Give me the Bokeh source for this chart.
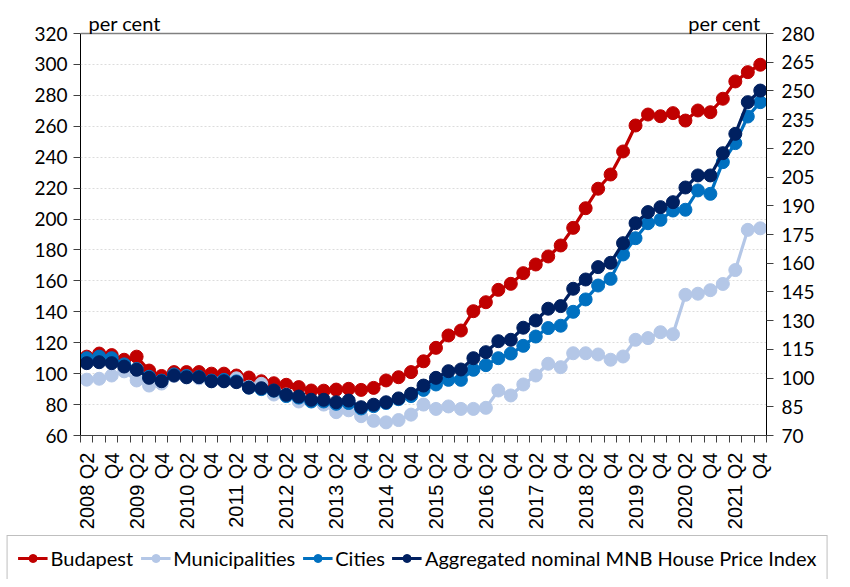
import math
from bokeh.plotting import figure
from bokeh.models import Range1d, LinearAxis, FixedTicker, Legend, LegendItem, Label, Span
from bokeh.embed import file_html
from bokeh.resources import INLINE

# ---- data -------------------------------------------------------------
years = [str(y) for y in range(2008, 2022)]
quarters = ["2008 Q2", "2008 Q3", "2008 Q4"] + [f"{y} Q{q}" for y in years[1:] for q in (1, 2, 3, 4)]

tick_labels = ["2008 Q2", "Q4", "2009 Q2", "Q4", "2010 Q2", "Q4", "2011 Q2", "Q4",
               "2012 Q2", "Q4", "2013 Q2", "Q4", "2014 Q2", "Q4", "2015 Q2", "Q4",
               "2016 Q2", "Q4", "2017 Q2", "Q4", "2018 Q2", "Q4", "2019 Q2", "Q4",
               "2020 Q2", "Q4", "2021 Q2", "Q4"]

budapest = [111, 113, 112, 109, 111, 102, 98.5, 101, 101, 101,
            100, 100, 98.8, 97.5, 95.1, 93.8, 92.8, 91.3, 89.1, 89,
            89.7, 90.2, 89.5, 90.8, 95.6, 97.7, 101, 108, 116.7, 124.7,
            127.9, 140.4, 146.2, 154.2, 158.1, 165, 170.6, 175.8, 182.9, 194.3,
            207, 219.6, 228.8, 243.7, 260.5, 267.6, 266.5, 268.5, 263.7, 270.2,
            269.1, 277.8, 289, 295, 299.8]

municipalities = [96.1, 96.7, 98.8, 101.5, 95.6, 92.3, 93.6, 98.5, 97.5, 97,
                  95, 95, 97, 91.5, 93.4, 86.5, 86.5, 82, 82.5, 80,
                  75.1, 76.3, 72.5, 69.5, 68.5, 70, 73.5, 80, 77.2, 78.8,
                  77.2, 77.2, 77.9, 89.1, 85.9, 93, 98.8, 106.4, 104.2, 113.2,
                  113.2, 112.4, 109, 111.1, 121.9, 123, 126.8, 125.5, 151, 151.7,
                  154, 158, 167, 193, 194]

cities = [110, 111, 110, 106, 103, 98, 95.5, 99.5, 98.5, 98,
          95.5, 96, 95, 91, 90, 89, 85.5, 84.5, 82, 82,
          80.5, 81, 77.5, 79, 81, 83.5, 85.5, 89.5, 93, 96,
          96, 102.5, 105.5, 110, 113, 118, 124, 129.5, 131, 140,
          148, 157, 161.3, 177.1, 187.6, 197.3, 199.5, 205.5, 206, 218.5,
          216.3, 236.8, 249.1, 266.3, 275.6]

aggregated = [106.8, 107.4, 106.8, 104.6, 102.5, 97.3, 95.1, 98.8, 97.7, 97.7,
              95.1, 95.1, 94.5, 91, 90.6, 89.1, 86.3, 85.2, 83.1, 83.1,
              81.5, 82.6, 78.3, 79.9, 81.5, 84, 87, 92.3, 97.3, 101.6,
              102.7, 110, 113.9, 121, 121.9, 129.7, 134.4, 142, 143.7, 154.9,
              160.9, 168.9, 171.7, 184.4, 197.3, 204.5, 207.7, 210.9, 220.4, 228.2,
              228.2, 242.6, 255.1, 275.6, 283.1]

series_names = ["Budapest", "Municipalities", "Cities", "Aggregated nominal MNB House Price Index"]
series_colors = ["#C00000", "#B4C7E7", "#0070C0", "#002060"]
series_values = [budapest, municipalities, cities, aggregated]

left_ticks = [60, 80, 100, 120, 140, 160, 180, 200, 220, 240, 260, 280, 300, 320]
right_ticks = [70, 85, 100, 115, 130, 145, 160, 175, 190, 205, 220, 235, 250, 265, 280]

# ---- main figure ------------------------------------------------------
n = len(quarters)
xs = list(range(n))

PLOT_H = 402          # height of the 60..320 area in px
HEAD = 25             # room above the top line for "per cent"
l_lo, l_hi = left_ticks[0], left_ticks[-1]
r_lo, r_hi = right_ticks[0], right_ticks[-1]
l_top = l_hi + HEAD * (l_hi - l_lo) / PLOT_H
r_top = r_hi + HEAD * (r_hi - r_lo) / PLOT_H

p = figure(width=834, height=532, output_backend="svg", toolbar_location=None,
           x_range=Range1d(-0.5, n - 0.5), y_range=Range1d(l_lo, l_top),
           min_border_left=80, min_border_right=68, min_border_top=8, min_border_bottom=97)
p.background_fill_color = "white"
p.border_fill_color = "white"
p.outline_line_color = None

# y grid
p.xgrid.visible = False
p.ygrid.ticker = FixedTicker(ticks=left_ticks[1:-1])
p.ygrid.grid_line_color = "#dcdcdc"
p.ygrid.grid_line_dash = "2 2"
p.ygrid.grid_line_width = 1
p.add_layout(Span(location=l_hi, dimension="width", line_color="#808080", line_width=1.3))

# left axis
ya = p.yaxis[0]
ya.ticker = FixedTicker(ticks=left_ticks)
ya.bounds = (l_lo, l_hi)
ya.major_tick_out = 7
ya.major_tick_in = 0
ya.minor_tick_line_color = None
ya.axis_line_color = "black"
ya.major_tick_line_color = "#404040"
ya.major_label_text_font = "Lato"
ya.major_label_text_font_size = "19px"
ya.major_label_text_color = "black"
ya.major_label_standoff = 6

# right axis
p.extra_y_ranges = {"right": Range1d(r_lo, r_top)}
ra = LinearAxis(y_range_name="right", ticker=FixedTicker(ticks=right_ticks), bounds=(r_lo, r_hi))
ra.major_tick_out = 7
ra.major_tick_in = 0
ra.minor_tick_line_color = None
ra.axis_line_color = "black"
ra.major_tick_line_color = "#404040"
ra.major_label_text_font = "Lato"
ra.major_label_text_font_size = "19px"
ra.major_label_text_color = "black"
ra.major_label_standoff = 8
p.add_layout(ra, "right")

# x axis
xa = p.xaxis[0]
label_pos = xs[::2]
xa.ticker = FixedTicker(ticks=label_pos, minor_ticks=[i - 0.5 for i in range(n + 1)])
xa.major_label_overrides = {i: lab for i, lab in zip(label_pos, tick_labels)}
xa.major_label_orientation = math.pi / 2
xa.major_tick_line_color = None
xa.major_tick_out = 0
xa.major_tick_in = 0
xa.minor_tick_out = 7
xa.minor_tick_in = 0
xa.minor_tick_line_color = "#404040"
xa.axis_line_color = "#404040"
xa.major_label_standoff = 10
xa.major_label_text_font = "Liberation Sans"
xa.major_label_text_font_size = "20px"
xa.major_label_text_color = "black"

# series
for col, vals in zip(series_colors, series_values):
    p.line(xs, vals, line_color=col, line_width=3.2)
    p.scatter(xs, vals, size=13, fill_color=col, line_color=col)

# "per cent" labels
p.add_layout(Label(x=-0.5, y=l_hi, x_offset=8, y_offset=11, text="per cent",
                   text_font="Lato", text_font_size="20px", text_color="black",
                   text_baseline="alphabetic", text_align="left"))
p.add_layout(Label(x=n - 0.5, y=l_hi, x_offset=-6, y_offset=11, text="per cent",
                   text_font="Lato", text_font_size="20px", text_color="black",
                   text_baseline="alphabetic", text_align="right"))

# ---- legend strip (separate root so its frame spans the full width) ---
lp = figure(width=834, height=47, output_backend="svg", toolbar_location=None,
            x_range=Range1d(-0.5, n - 0.5), y_range=Range1d(1000, 1001),
            x_axis_location=None, y_axis_location=None,
            min_border_left=0, min_border_right=0, min_border_top=0, min_border_bottom=0)
lp.outline_line_color = None
lp.grid.visible = False
lp.background_fill_color = "white"
lp.border_fill_color = "white"

items = []
for name, col, vals in zip(series_names, series_colors, series_values):
    r1 = lp.line(xs, vals, line_color=col, line_width=3.2)
    r2 = lp.scatter(xs, vals, size=10, fill_color=col, line_color=col)
    items.append(LegendItem(label=name, renderers=[r1, r2]))

legend = Legend(items=items, orientation="horizontal", location="top_center",
                label_text_font="Lato", label_text_font_size="20px", label_text_color="black",
                glyph_width=30, glyph_height=20, label_standoff=3, spacing=7,
                padding=10, margin=3, border_line_color="#808080", border_line_width=1,
                background_fill_alpha=1)
lp.add_layout(legend, "center")

open("out.html", "w").write(file_html([p, lp], INLINE))
